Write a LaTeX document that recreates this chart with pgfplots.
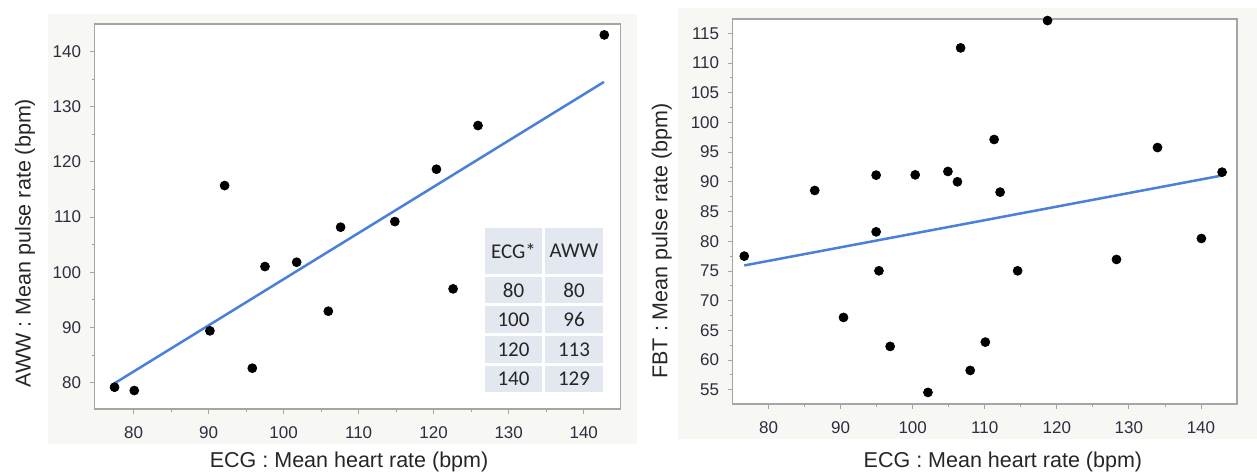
\documentclass[border=0pt]{standalone}
\usepackage{fontspec}
\setmainfont{Liberation Sans}
\newfontfamily\tabfont{Carlito}
\usepackage{pgfplots}
\pgfplotsset{compat=1.18}
\definecolor{panel}{RGB}{247,247,243}
\definecolor{cellc}{RGB}{226,231,240}
\definecolor{fitc}{RGB}{74,128,218}
\definecolor{framec}{RGB}{165,165,165}
\definecolor{tickc}{RGB}{45,45,65}

\pgfplotsset{jmp/.style={
  scale only axis, anchor=south west,
  axis line style={draw=framec, line width=0.7pt},
  tick style={draw=framec, line width=0.5pt},
  major tick length=3pt, minor tick length=1.8pt,
  tick align=outside, tick pos=left, minor tick num=1,
  ticklabel style={font=\fontsize{10.2}{12}\selectfont, text=tickc},
  xticklabel style={yshift=-4.2pt},
  yticklabel style={xshift=-1.5pt},
  /pgf/number format/assume math mode=true,
  axis background/.style={fill=white},
  label style={font=\fontsize{12.9}{15}\selectfont, text=black!85},
}}

\begin{document}
\begin{tikzpicture}
\path[use as bounding box] (0,0) rectangle (754.2pt,284.4pt);
\begin{scope}[x=0.6pt,y=-0.6pt,yshift=284.4pt]
  \fill[panel] (48,14) rectangle (637,444);
  \fill[panel] (678,8) rectangle (1257,439);
\end{scope}

% Left plot
\begin{axis}[jmp,
  at={(56.7pt,39pt)}, width=315.6pt, height=231pt,
  xmin=74.8, xmax=144.9, ymin=75.2, ymax=145.0,
  xtick={80,90,...,140}, ytick={80,90,...,140},
  xlabel={ECG : Mean heart rate (bpm)},
  ylabel={AWW : Mean pulse rate (bpm)},
  xlabel style={at={(axis description cs:0.484,-0.138)}, anchor=center},
  ylabel style={at={(axis description cs:-0.132,0.431)}, anchor=center},
]
\addplot[fitc, line width=1.5pt] coordinates {(77.4,79.8) (142.7,134.5)};
\addplot[only marks, mark=*, mark size=2.7pt, black] coordinates {
(77.47,79.15) (80.10,78.55) (90.18,89.37) (92.14,115.71) (95.83,82.60)
(97.52,101.03) (101.74,101.81) (105.96,92.93) (107.60,108.16) (114.83,109.18)
(120.37,118.67) (122.59,96.98) (125.91,126.59) (142.74,143.02)};
\end{axis}

% Right plot
\begin{axis}[jmp,
  at={(439.5pt,42pt)}, width=302.7pt, height=231pt,
  xmin=75.0, xmax=145.0, ymin=52.6, ymax=117.4,
  xtick={80,90,...,140}, ytick={55,60,...,115},
  xlabel={ECG : Mean heart rate (bpm)},
  ylabel={FBT : Mean pulse rate (bpm)},
  xlabel style={at={(axis description cs:0.536,-0.151)}, anchor=center},
  ylabel style={at={(axis description cs:-0.140,0.423)}, anchor=center},
]
\addplot[fitc, line width=1.5pt] coordinates {(76.63,75.92) (142.93,91.06)};
\addplot[only marks, mark=*, mark size=2.7pt, black] coordinates {
(76.63,77.49) (86.41,88.54) (90.40,67.17) (94.93,91.12) (94.93,81.58)
(95.32,75.02) (96.87,62.29) (100.35,91.17) (102.12,54.55) (104.89,91.74)
(106.21,90.00) (106.65,112.54) (107.98,58.25) (110.08,63.02) (111.30,97.12)
(112.13,88.26) (114.56,75.02) (118.71,117.14) (128.28,76.93) (133.97,95.77)
(140.06,80.46) (142.93,91.62)};
\end{axis}

% Table
\begin{scope}[x=0.6pt,y=-0.6pt,yshift=284.4pt]
  \fill[cellc] (485,228) rectangle (542,274);
  \fill[cellc] (545,228) rectangle (603,274);
  \foreach \ya/\yb in {277/303, 306/333, 336/363, 366/392}{
    \fill[cellc] (485,\ya) rectangle (542,\yb);
    \fill[cellc] (545,\ya) rectangle (603,\yb);
  }
  \tikzset{tc/.style={font=\tabfont\fontsize{12.6}{14}\selectfont, text=black!85, anchor=center, inner sep=0pt}}
  \node[tc] at (513.5,251) {ECG*};
  \node[tc] at (574,251) {AWW};
  \node[tc] at (513.5,290) {80};  \node[tc] at (574,290) {80};
  \node[tc] at (513.5,319.5) {100}; \node[tc] at (574,319.5) {96};
  \node[tc] at (513.5,349.5) {120}; \node[tc] at (574,349.5) {113};
  \node[tc] at (513.5,379) {140}; \node[tc] at (574,379) {129};
\end{scope}
\end{tikzpicture}
\end{document}
